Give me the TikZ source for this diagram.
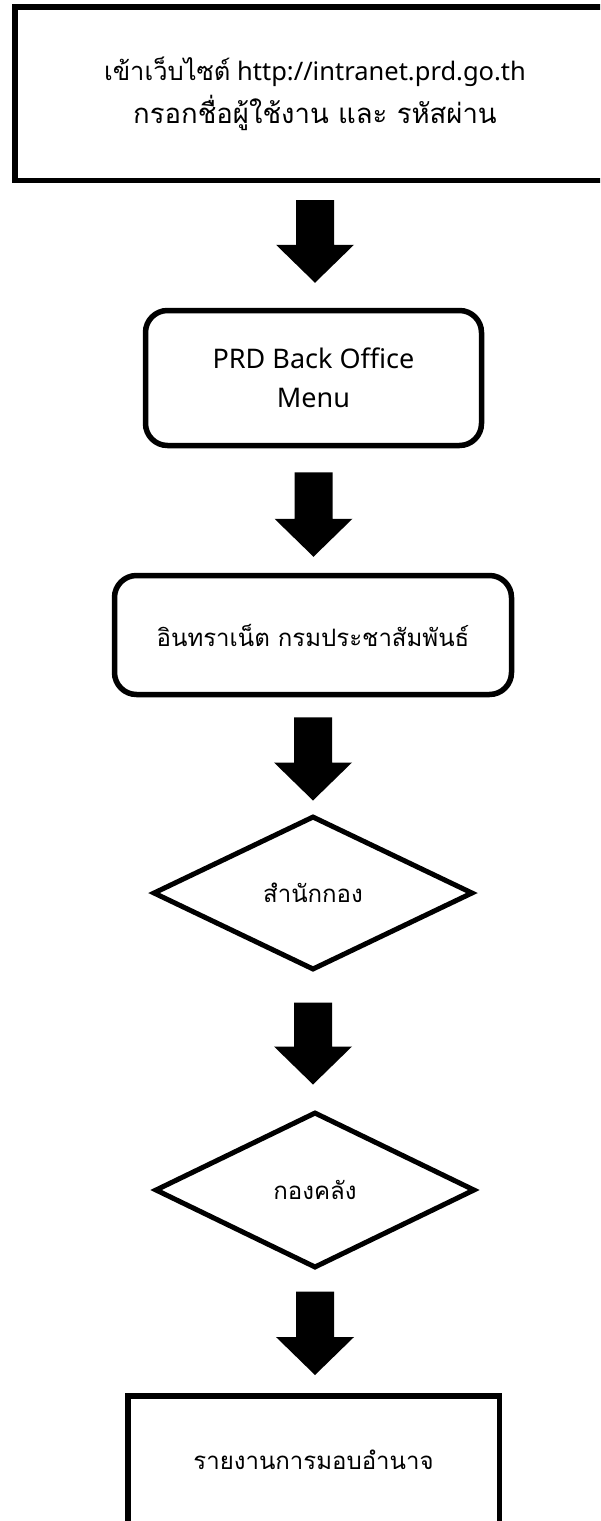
\documentclass[tikz,border=0pt]{standalone}
\usepackage{fontspec}
\setmainfont{Noto Sans}
\newfontfamily\thaifont[Script=Thai]{Loma}
\usetikzlibrary{calc,shapes.geometric}
\tikzset{
  box/.style={draw, line width=5.5pt, rectangle, inner sep=0pt, align=center},
  roundbox/.style={box, rounded corners=22pt},
  decision/.style={draw, line width=5pt, diamond, inner sep=0pt, align=center},
  blockarrow/.style={fill=black},
  thaitext/.style={font=\thaifont\fontsize{24pt}{36pt}\selectfont},
}
\newcommand\flowarrow[4]{%
  \fill[blockarrow] let \p1=($(#1.south)+(0,#3)$), \p2=($(#2.north)+(0,-#4)$) in
   (\x1-19pt,\y1) -- (\x1+19pt,\y1) -- (\x1+19pt,\y2+38pt) -- (\x1+39pt,\y2+38pt)
   -- (\x1,\y2) -- (\x1-39pt,\y2+38pt) -- (\x1-19pt,\y2+38pt) -- cycle;}
\begin{document}
\begin{tikzpicture}[x=1pt,y=-1pt]
\useasboundingbox (0,0) rectangle (600,1521);
\fill[white] (0,0) rectangle (600,1521);
\clip (0,0) rectangle (600,1521);
\node[box, font=\fontsize{25.5pt}{43pt}\selectfont, minimum width=600.5pt, minimum height=173.5pt] (login) at (315,93.5)
  {{\thaifont เข้าเว็บไซต์} http://intranet.prd.go.th\\ {\thaifont\fontsize{27.5pt}{43pt}\selectfont กรอกชื่อผู้ใช้งาน และ รหัสผ่าน}};
\node[roundbox, font=\fontsize{27pt}{39pt}\selectfont, minimum width=336pt, minimum height=135pt] (menu) at (313.5,378)
  {PRD Back Office\\ Menu};
\node[roundbox, thaitext, minimum width=397pt, minimum height=119pt] (intranet) at (313,635)
  {อินทราเน็ต กรมประชาสัมพันธ์};
\node[decision, thaitext, minimum width=320pt, minimum height=154pt] (office) at (313,893)
  {สำนักกอง};
\node[decision, thaitext, minimum width=320pt, minimum height=156pt] (finance) at (315,1190)
  {กองคลัง};
\node[box, thaitext, minimum width=371.5pt, minimum height=128.5pt] (report) at (313.5,1460)
  {รายงานการมอบอำนาจ};
\flowarrow{login}{menu}{17}{25}
\flowarrow{menu}{intranet}{24}{16}
\flowarrow{intranet}{office}{20}{13}
\flowarrow{office}{finance}{30}{25}
\flowarrow{finance}{report}{21}{18}
\end{tikzpicture}
\end{document}
